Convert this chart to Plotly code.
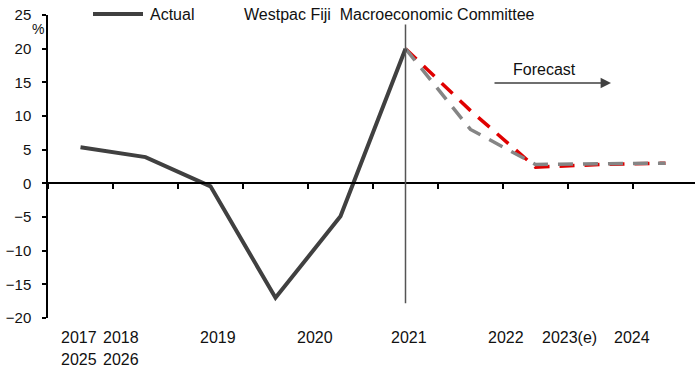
import plotly.graph_objects as go

# ---- data ----
years = [2017, 2018, 2019, 2020, 2021, 2022, 2023, 2024, 2025, 2026]
actual = [5.35, 3.9, -0.45, -17.0, -4.9, 20.0]
westpac = [20.0, 10.8, 2.4, 2.8, 3.0]          # red dashed, 2022-2026
committee = [20.0, 8.0, 2.8, 2.9, 3.0]         # grey dashed, 2022-2026
row1_labels = ["2017", "2018", "2019", "2020", "2021", "2022", "2023(e)", "2024"]
row1_pos = [-0.02, 0.63, 2.11, 3.6, 5.06, 6.54, 7.52, 8.49]
row2_labels = ["2025", "2026"]
row2_pos = [-0.02, 0.63]
y_ticks = [-20, -15, -10, -5, 0, 5, 10, 15, 20, 25]

idx = list(range(len(years)))
act_x = idx[:len(actual)]
fc_x = idx[5:5 + len(westpac)]

W, H = 695, 368
ML, MR, MT, MB = 48, 0, 15, 50
PW, PH = W - ML - MR, H - MT - MB
def px(x):
    return (x - ML) / PW
def py(y):
    return (H - MB - y) / PH

FONT = "Liberation Sans, Arial, sans-serif"

fig = go.Figure()
fig.add_trace(go.Scatter(x=fc_x, y=westpac, mode="lines",
                         line=dict(color="#e00000", width=3.5, dash="15px,10px"),
                         showlegend=False))
fig.add_trace(go.Scatter(x=fc_x, y=committee, mode="lines",
                         line=dict(color="#858585", width=3.5, dash="15px,10px"),
                         showlegend=False))
fig.add_trace(go.Scatter(x=act_x, y=actual, mode="lines",
                         line=dict(color="#404040", width=4),
                         showlegend=False))

# vertical divider at 2022 point
fig.add_shape(type="line", xref="x", yref="y", x0=5, x1=5, y0=23.6, y1=-17.8,
              line=dict(color="#555555", width=1.5))

# legend-like header
fig.add_shape(type="line", xref="paper", yref="paper", x0=px(93), x1=px(143),
              y0=py(14), y1=py(14), line=dict(color="#404040", width=4))
fig.add_annotation(xref="paper", yref="paper", x=px(148), y=py(14), xanchor="left",
                   yanchor="middle", text="Actual", showarrow=False,
                   font=dict(size=16, color="#111111", family=FONT))
fig.add_annotation(xref="paper", yref="paper", x=px(242), y=py(14), xanchor="left",
                   yanchor="middle", text="Westpac Fiji  Macroeconomic Committee",
                   showarrow=False, font=dict(size=16, color="#111111", family=FONT))
fig.add_annotation(xref="paper", yref="paper", x=px(38), y=py(29), xanchor="center",
                   yanchor="middle", text="%", showarrow=False,
                   font=dict(size=14, color="#111111", family=FONT))

# forecast arrow
fig.add_annotation(xref="paper", yref="paper", x=px(544), y=py(69), xanchor="center",
                   yanchor="middle", text="Forecast", showarrow=False,
                   font=dict(size=16, color="#111111", family=FONT))
fig.add_annotation(xref="paper", yref="paper", axref="pixel", ayref="pixel",
                   x=px(611), y=py(83), ax=-118, ay=0, text="",
                   showarrow=True, arrowhead=2, arrowsize=1.6, arrowwidth=1.3,
                   arrowcolor="#404040")

# category labels below plot
for lab, pos in zip(row1_labels, row1_pos):
    fig.add_annotation(xref="x", yref="paper", x=pos, y=py(337), text=lab,
                       showarrow=False, xanchor="center", yanchor="middle",
                       font=dict(size=16, color="#111111", family=FONT))
for lab, pos in zip(row2_labels, row2_pos):
    fig.add_annotation(xref="x", yref="paper", x=pos, y=py(359), text=lab,
                       showarrow=False, xanchor="center", yanchor="middle",
                       font=dict(size=16, color="#111111", family=FONT))

fig.update_layout(
    width=W, height=H,
    margin=dict(l=ML, r=MR, t=MT, b=MB, pad=0),
    paper_bgcolor="white", plot_bgcolor="white",
    showlegend=False,
    font=dict(family=FONT, color="#111111"),
    xaxis=dict(range=[-0.5, -0.5 + PW / 65.0], anchor="free", position=20 / 45,
               showline=True, linecolor="black", linewidth=1.5,
               tickvals=[i - 0.5 for i in range(11)], ticks="outside",
               ticklen=5, tickwidth=1.5, tickcolor="black",
               showticklabels=False, showgrid=False, zeroline=False),
    yaxis=dict(range=[-20, 25], tickvals=y_ticks, ticks="outside", ticklen=4,
               tickwidth=1.5, tickcolor="black", showline=True, linecolor="black",
               linewidth=1.5, showgrid=False, zeroline=False, ticklabelstandoff=8,
               tickfont=dict(size=15, color="#111111", family=FONT)),
)

fig.write_html("out.html")
